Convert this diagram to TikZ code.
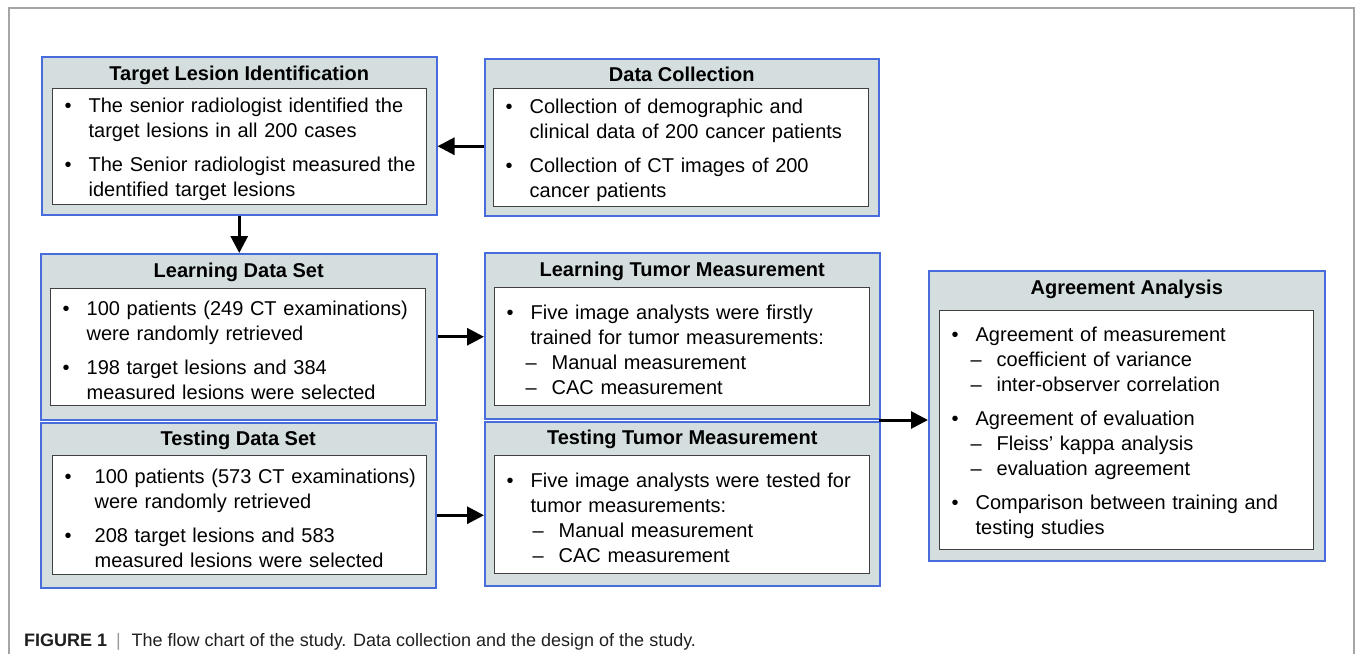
\documentclass[tikz,border=0pt]{standalone}
\usepackage{fontspec}
\setmainfont{Liberation Sans}
\usepackage{xcolor}
\usetikzlibrary{positioning,arrows.meta}

\definecolor{boxfill}{RGB}{213,222,223}
\definecolor{boxline}{RGB}{72,108,220}
\definecolor{inline}{RGB}{64,64,64}
\definecolor{framegray}{RGB}{165,165,165}

% bullet, continuation line and dash item (10pt lead-in inside the box)
\newcommand{\blt}[1][24pt]{\hspace*{10pt}\makebox[#1][l]{\textbullet}}
\newcommand{\cnt}[1][24pt]{\hspace*{\dimexpr#1+10pt\relax}}
\newcommand{\dsh}[1][19pt]{\hspace*{\dimexpr#1+10pt\relax}\makebox[26pt][l]{\textendash}}

\begin{document}
\begin{tikzpicture}[x=1pt, y=-1pt,
    obox/.style={draw=boxline, fill=boxfill, line width=1.5pt, inner sep=0pt, anchor=north west},
    ibox/.style={draw=inline, fill=white, line width=1.3pt, anchor=north west, align=left,
                 inner xsep=2pt, inner ysep=0pt, font=\fontsize{20}{25}\selectfont,
                 execute at begin node={\rule{0pt}{20pt}}},
    ttl/.style={anchor=base, inner sep=0pt, font=\fontsize{20}{24}\selectfont\bfseries},
    arr/.style={-{Triangle[length=17pt, width=17pt]}, line width=3pt}
  ]
  \useasboundingbox (0,0) rectangle (1355,654);
  \draw[framegray, line width=2pt] (9,654) -- (9,8) -- (1354,8) -- (1354,654);

  % ---------------- Outer boxes ----------------
  \node[obox, minimum width=395pt, minimum height=158pt] (tli) at (41,56)  {};
  \node[obox, minimum width=394pt, minimum height=157pt] (dc)  at (484,58) {};
  \node[obox, minimum width=396pt, minimum height=166pt] (lds) at (40,253) {};
  \node[obox, minimum width=395pt, minimum height=165pt] (tds) at (40,422) {};
  \node[obox, minimum width=395pt, minimum height=166pt] (ltm) at (484,252) {};
  \node[obox, minimum width=395pt, minimum height=164pt] (ttm) at (484,421) {};
  \node[obox, minimum width=396pt, minimum height=290pt] (aa)  at (928,270) {};

  % ---------------- Titles ----------------
  \node[ttl] (tlit) at ([yshift=-24pt]tli.north) {Target Lesion Identification};
  \node[ttl] (dct)  at ([yshift=-23pt]dc.north)  {Data Collection};
  \node[ttl] (ldst) at ([yshift=-24pt]lds.north) {Learning Data Set};
  \node[ttl] (tdst) at ([yshift=-23pt]tds.north) {Testing Data Set};
  \node[ttl] (ltmt) at ([yshift=-24pt]ltm.north) {Learning Tumor Measurement};
  \node[ttl] (ttmt) at ([yshift=-23pt]ttm.north) {Testing Tumor Measurement};
  \node[ttl] (aat)  at ([yshift=-24pt]aa.north)  {Agreement Analysis};

  % ---------------- Inner boxes ----------------
  \node[ibox, text width=370pt, minimum height=116pt] (tlii) at (52,88) {%
    \blt The senior radiologist identified the\\
    \cnt target lesions in all 200 cases\\[9pt]
    \blt The Senior radiologist measured the\\
    \cnt identified target lesions};
  \node[ibox, text width=371pt, minimum height=118pt] (dci) at (493,88) {%
    \blt Collection of demographic and\\
    \cnt clinical data of 200 cancer patients\\[9pt]
    \blt Collection of CT images of 200\\
    \cnt cancer patients};
  \node[ibox, text width=371pt, minimum height=117pt] (ldsi) at (50,288) {%
    \blt 100 patients (249 CT examinations)\\
    \cnt were randomly retrieved\\[9pt]
    \blt 198 target lesions and 384\\
    \cnt measured lesions were selected};
  \node[ibox, text width=370pt, minimum height=119pt] (tdsi) at (52,455) {%
    \blt[30pt]100 patients (573 CT examinations)\\
    \cnt[30pt]were randomly retrieved\\[9pt]
    \blt[30pt]208 target lesions and 583\\
    \cnt[30pt]measured lesions were selected};
  \node[ibox, text width=371pt, minimum height=118pt] (ltmi) at (494,287) {%
    \blt Five image analysts were firstly\\
    \cnt trained for tumor measurements:\\
    \dsh Manual measurement\\
    \dsh CAC measurement};
  \node[ibox, text width=371pt, minimum height=118pt] (ttmi) at (494,455) {%
    \blt Five image analysts were tested for\\
    \cnt tumor measurements:\\
    \dsh[26pt]Manual measurement\\
    \dsh[26pt]CAC measurement};
  \node[ibox, text width=370pt, minimum height=239pt] (aai) at (939,310) {%
    \blt Agreement of measurement\\
    \dsh coefficient of variance\\
    \dsh inter-observer correlation\\[9pt]
    \blt Agreement of evaluation\\
    \dsh Fleiss’ kappa analysis\\
    \dsh evaluation agreement\\[9pt]
    \blt Comparison between training and\\
    \cnt testing studies};

  % ---------------- Arrows ----------------
  \coordinate (mj) at (879,420);
  \draw[arr] ([yshift=-9pt]dc.west) -- ([yshift=-9pt]dc.west -| tli.east);
  \draw[arr] (tli.south) -- (tli.south |- lds.north);
  \draw[arr] (lds.east) -- (lds.east -| ltm.west);
  \draw[arr] ([yshift=-10pt]tds.east) -- ([yshift=-10pt]tds.east -| ttm.west);
  \draw[arr] (mj) -- (mj -| aa.west);

  % ---------------- Caption ----------------
  \node[anchor=base west, inner sep=0pt, text=black!88, font=\fontsize{18}{20}\selectfont] (cap) at (24,646)
    {\textbf{FIGURE 1}\hspace{0.5em}{\color{black!40}|}\hspace{0.6em}The flow chart of the study. Data collection and the design of the study.};
\end{tikzpicture}
\end{document}
